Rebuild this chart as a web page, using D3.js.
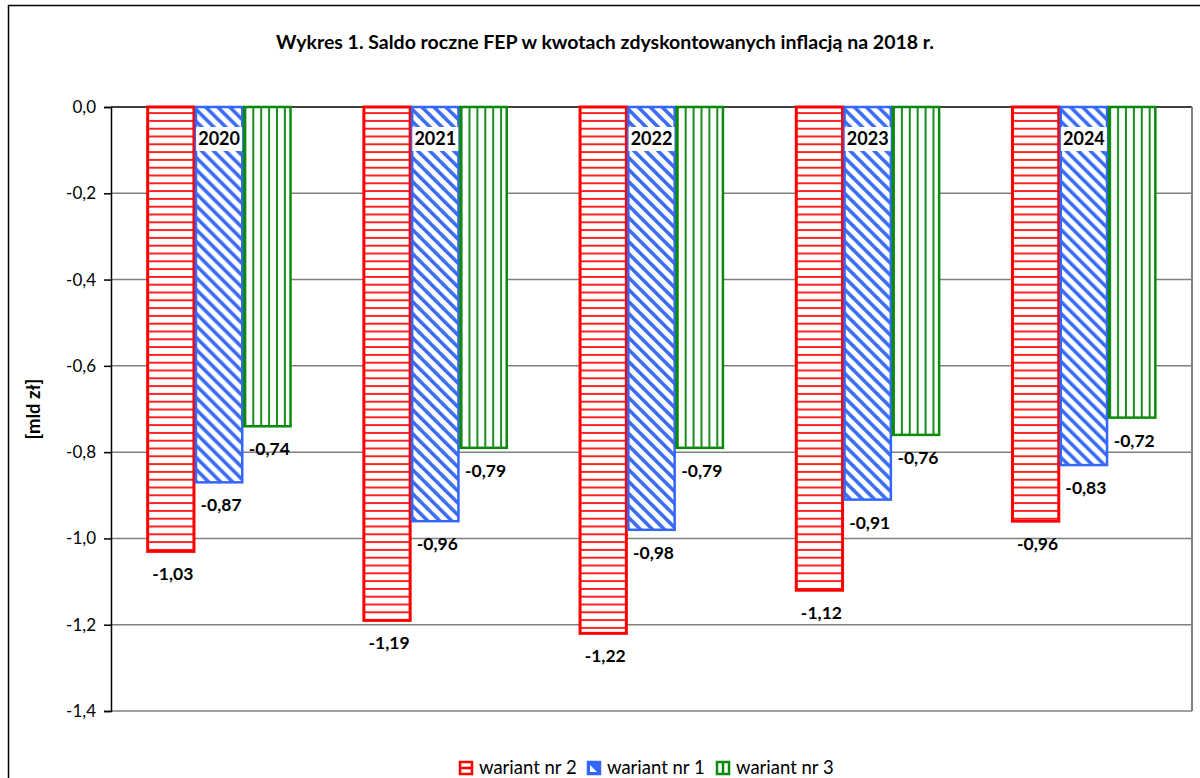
<!DOCTYPE html>
<html>
<head>
<meta charset="utf-8">
<script src="https://cdn.jsdelivr.net/npm/d3@7"></script>
<style>
  body { margin: 0; background: #fff; }
  svg { display: block; font-family: Lato, "Open Sans", sans-serif; }
</style>
</head>
<body>
<div id="chart"></div>
<script>
// data
const years = ['2020', '2021', '2022', '2023', '2024'];
const seriesNames = ['wariant nr 2', 'wariant nr 1', 'wariant nr 3'];
const wariant2 = [-1.03, -1.19, -1.22, -1.12, -0.96];
const wariant1 = [-0.87, -0.96, -0.98, -0.91, -0.83];
const wariant3 = [-0.74, -0.79, -0.79, -0.76, -0.72];
const yTicks = [0, -0.2, -0.4, -0.6, -0.8, -1.0, -1.2, -1.4];

const seriesValues = [wariant2, wariant1, wariant3];
const seriesColors = ['#ff0000', '#3366ff', '#0a8a0a'];
const patternIds = ['pat-red', 'pat-blue', 'pat-green'];

const width = 1200, height = 778;
const plot = { left: 111, right: 1192, top: 107, bottom: 711 };

const fmt = v => v.toFixed(2).replace('.', ',');
const fmtTick = v => (v === 0 ? 0 : v).toFixed(1).replace('.', ',');

const svg = d3.select('#chart').append('svg')
  .attr('width', width)
  .attr('height', height);

// patterns for the bars
const defs = svg.append('defs');

const pRed = defs.append('pattern').attr('id', 'pat-red')
  .attr('patternUnits', 'userSpaceOnUse').attr('width', 10).attr('height', 7.8);
pRed.append('rect').attr('width', 10).attr('height', 7.8).attr('fill', '#fff');
pRed.append('line').attr('x1', 0).attr('x2', 10).attr('y1', 3.9).attr('y2', 3.9)
  .attr('stroke', '#ff2020').attr('stroke-width', 2);

const pBlue = defs.append('pattern').attr('id', 'pat-blue')
  .attr('patternUnits', 'userSpaceOnUse').attr('width', 12).attr('height', 12);
pBlue.append('rect').attr('width', 12).attr('height', 12).attr('fill', '#fff');
pBlue.append('path').attr('d', 'M-3,-3 L15,15 M-3,9 L3,15 M9,-3 L15,3')
  .attr('stroke', '#3a6cf5').attr('stroke-width', 3.6);

const pGreen = defs.append('pattern').attr('id', 'pat-green')
  .attr('patternUnits', 'userSpaceOnUse').attr('width', 7.9).attr('height', 10);
pGreen.append('rect').attr('width', 7.9).attr('height', 10).attr('fill', '#fff');
pGreen.append('line').attr('x1', 3.9).attr('x2', 3.9).attr('y1', 0).attr('y2', 10)
  .attr('stroke', '#1a8c1a').attr('stroke-width', 2);

// outer chart border
svg.append('rect')
  .attr('x', 8.5).attr('y', 5.5)
  .attr('width', 1300).attr('height', 900)
  .attr('fill', 'none').attr('stroke', '#000').attr('stroke-width', 1.5);

// title
svg.append('text')
  .attr('x', 605).attr('y', 49)
  .attr('text-anchor', 'middle')
  .style('font-size', '19.5px')
  .style('font-weight', 'bold')
  .text('Wykres 1. Saldo roczne FEP w kwotach zdyskontowanych inflacją na 2018 r.');

const x0 = d3.scaleBand().domain(years)
  .range([plot.left, plot.right])
  .paddingInner(0.33).paddingOuter(0.165);
const x1 = d3.scaleBand().domain(seriesNames).range([0, x0.bandwidth()]);
const y = d3.scaleLinear().domain([0, -1.4]).range([plot.top, plot.bottom]);

// gridlines
svg.append('g')
  .selectAll('line')
  .data(yTicks)
  .enter()
  .append('line')
  .attr('x1', plot.left).attr('x2', plot.right)
  .attr('y1', d => y(d)).attr('y2', d => y(d))
  .attr('stroke', d => d === 0 ? '#000' : '#808080')
  .attr('stroke-width', 1.5);

// plot area right border
svg.append('path')
  .attr('d', `M${plot.right},${plot.top}V${plot.bottom}`)
  .attr('stroke', '#808080').attr('stroke-width', 2).attr('fill', 'none');

// y axis
const yAxis = svg.append('g')
  .attr('transform', `translate(${plot.left},0)`)
  .call(d3.axisLeft(y).tickValues(yTicks).tickFormat(fmtTick).tickSizeOuter(0).tickSize(7).tickPadding(8));
yAxis.select('.domain').attr('stroke', '#000').attr('stroke-width', 1.5);
yAxis.selectAll('.tick line').attr('stroke', '#000').attr('stroke-width', 1.5);
yAxis.selectAll('text')
  .style('font-family', 'Lato, "Open Sans", sans-serif')
  .style('font-size', '17px')
  .style('fill', '#000');

svg.append('text')
  .attr('transform', 'translate(40,409) rotate(-90)')
  .attr('text-anchor', 'middle')
  .style('font-size', '18.5px')
  .style('font-weight', 'bold')
  .text('[mld zł]');

// bars
const groups = svg.append('g')
  .selectAll('g')
  .data(years)
  .enter()
  .append('g')
  .attr('transform', d => `translate(${x0(d)},0)`);

groups.selectAll('rect')
  .data((d, i) => seriesNames.map((s, j) => ({ s, j, v: seriesValues[j][i] })))
  .enter()
  .append('rect')
  .attr('x', d => x1(d.s) + 1)
  .attr('width', x1.bandwidth() - 2)
  .attr('y', y(0))
  .attr('height', d => y(d.v) - y(0))
  .attr('fill', d => `url(#${patternIds[d.j]})`)
  .attr('stroke', d => seriesColors[d.j])
  .attr('stroke-width', d => d.j === 0 ? 3 : 2.5);

// value labels
groups.selectAll('text.label')
  .data((d, i) => seriesNames.map((s, j) => ({ s, j, v: seriesValues[j][i] })))
  .enter()
  .append('text')
  .attr('class', 'label')
  .attr('x', d => x1(d.s) + x1.bandwidth() / 2 + 2)
  .attr('y', d => y(d.v) + 29)
  .attr('text-anchor', 'middle')
  .style('font-size', '17.5px')
  .style('font-weight', 'bold')
  .text(d => fmt(d.v));

// category labels with white background
const cat = svg.append('g')
  .selectAll('g')
  .data(years)
  .enter()
  .append('g')
  .attr('transform', d => `translate(${x0(d) + x0.bandwidth() / 2},139)`);

cat.append('rect')
  .attr('x', -23).attr('y', -12)
  .attr('width', 46).attr('height', 24)
  .attr('fill', '#fff');

cat.append('text')
  .attr('text-anchor', 'middle')
  .attr('dy', '0.36em')
  .style('font-size', '18px')
  .style('font-weight', 'bold')
  .text(d => d);

// legend
const legendItems = [
  { name: seriesNames[0], x: 459, j: 0 },
  { name: seriesNames[1], x: 587, j: 1 },
  { name: seriesNames[2], x: 716, j: 2 }
];
const legend = svg.append('g')
  .selectAll('g')
  .data(legendItems)
  .enter()
  .append('g')
  .attr('transform', d => `translate(${d.x},761)`);

// small swatches, drawn like the coarse excel pattern markers
legend.append('rect')
  .attr('x', 1).attr('y', 1)
  .attr('width', 12).attr('height', 12)
  .attr('fill', d => d.j === 1 ? seriesColors[1] : '#fff')
  .attr('stroke', d => seriesColors[d.j])
  .attr('stroke-width', 2.5);

legend.filter(d => d.j === 0).append('line')
  .attr('x1', 1).attr('x2', 13).attr('y1', 7).attr('y2', 7)
  .attr('stroke', seriesColors[0]).attr('stroke-width', 2.5);

legend.filter(d => d.j === 1).append('path')
  .attr('d', 'M3,4 L3,11 L10,11 Z')
  .attr('fill', '#fff');

legend.filter(d => d.j === 2).append('line')
  .attr('x1', 7).attr('x2', 7).attr('y1', 1).attr('y2', 13)
  .attr('stroke', seriesColors[2]).attr('stroke-width', 2.5);

legend.append('text')
  .attr('x', 20).attr('y', 7)
  .attr('dy', '0.35em')
  .style('font-size', '18.5px')
  .text(d => d.name);
</script>
</body>
</html>
